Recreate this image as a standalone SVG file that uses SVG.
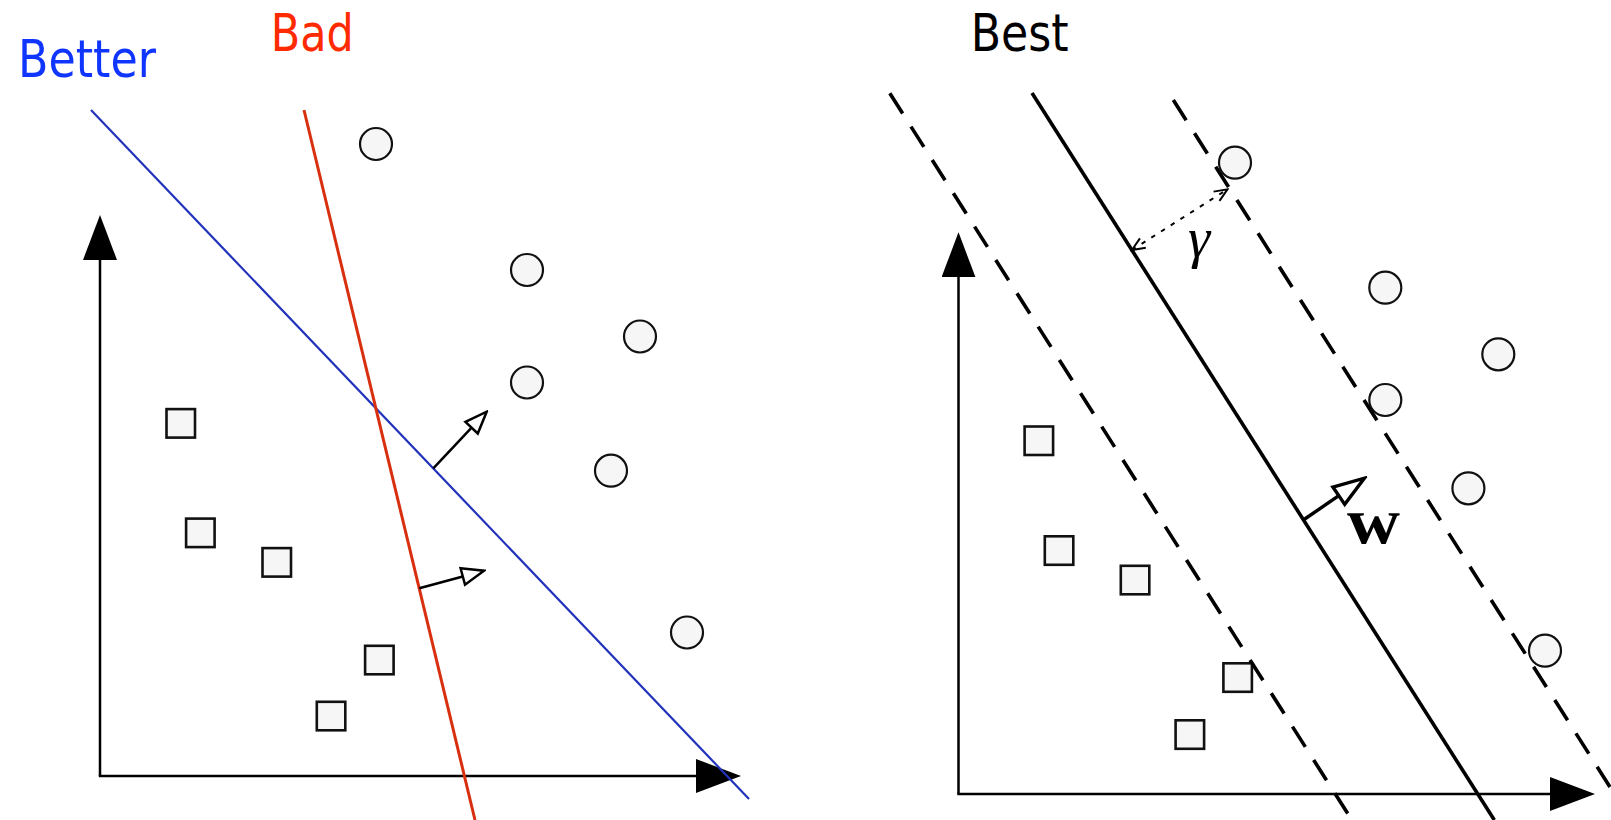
<svg xmlns="http://www.w3.org/2000/svg" width="1611" height="820" viewBox="0 0 1611 820">
  <style>
    .lbl { font-family: "DejaVu Sans", "Liberation Sans", sans-serif; font-size: 52px; }
    .axis { stroke: #000; stroke-width: 2.5; fill: none; }
    .pt { fill: #f6f6f6; stroke: #111; stroke-width: 2.2; }
    .sq { fill: #f6f6f6; stroke: #111; stroke-width: 2.6; }
    .dash { stroke: #000; stroke-width: 3.6; fill: none; stroke-dasharray: 24 15.5; }
  </style>
  <defs>
    <marker id="axisHead" viewBox="-5 -17 45 34" markerWidth="45" markerHeight="34" refX="0" refY="0" orient="auto" markerUnits="userSpaceOnUse">
      <path d="M-5,-17 L40,0 L-5,17 Z" fill="#000"/>
    </marker>
    <marker id="openHead" viewBox="-2 -11 26 22" markerWidth="26" markerHeight="22" refX="0" refY="0" orient="auto" markerUnits="userSpaceOnUse">
      <path d="M0,-8.5 L22,0 L0,8.5 Z" fill="#fff" stroke="#000" stroke-width="2.5" stroke-linejoin="miter"/>
    </marker>
    <marker id="openHeadW" viewBox="-3 -14 37 28" markerWidth="37" markerHeight="28" refX="0" refY="0" orient="auto" markerUnits="userSpaceOnUse">
      <path d="M0,-10.5 L31,0 L0,10.5 Z" fill="#fff" stroke="#000" stroke-width="3.4" stroke-linejoin="miter"/>
    </marker>
    <marker id="stickHead" viewBox="-16 -8 18 16" markerWidth="18" markerHeight="16" refX="0" refY="0" orient="auto-start-reverse" markerUnits="userSpaceOnUse">
      <path d="M-13,-5.5 L0,0 L-13,5.5" fill="none" stroke="#000" stroke-width="2"/>
    </marker>
  </defs>

  <!-- Labels -->
  <text id="label-better" class="lbl" x="18" y="77.3" fill="#0f35ff" textLength="138" lengthAdjust="spacingAndGlyphs">Better</text>
  <text id="label-bad" class="lbl" x="270.7" y="50.7" fill="#ff2a00" textLength="83" lengthAdjust="spacingAndGlyphs">Bad</text>
  <text id="label-best" class="lbl" x="970.7" y="50.7" fill="#000" textLength="98" lengthAdjust="spacingAndGlyphs">Best</text>

  <!-- Left panel points -->
  <g id="left-circles">
    <circle class="pt" cx="376" cy="144" r="16"/>
    <circle class="pt" cx="527" cy="270" r="16"/>
    <circle class="pt" cx="640" cy="336.5" r="16"/>
    <circle class="pt" cx="527" cy="382.5" r="16"/>
    <circle class="pt" cx="611" cy="470.7" r="16"/>
    <circle class="pt" cx="687" cy="632.5" r="16"/>
  </g>
  <g id="left-squares">
    <rect class="sq" x="166.5" y="409.1" width="28.5" height="28.5"/>
    <rect class="sq" x="186.1" y="518.6" width="28.5" height="28.5"/>
    <rect class="sq" x="262.5" y="548.1" width="28.5" height="28.5"/>
    <rect class="sq" x="365.1" y="645.8" width="28.5" height="28.5"/>
    <rect class="sq" x="316.8" y="701.8" width="28.5" height="28.5"/>
  </g>

  <!-- Right panel points -->
  <g id="right-circles">
    <circle class="pt" cx="1235" cy="162.7" r="16"/>
    <circle class="pt" cx="1385.3" cy="287.7" r="16"/>
    <circle class="pt" cx="1498.3" cy="354.3" r="16"/>
    <circle class="pt" cx="1385.3" cy="400" r="16"/>
    <circle class="pt" cx="1468.4" cy="488.3" r="16"/>
    <circle class="pt" cx="1545" cy="650.7" r="16"/>
  </g>
  <g id="right-squares">
    <rect class="sq" x="1024.6" y="426.5" width="28.5" height="28.5"/>
    <rect class="sq" x="1044.8" y="536.3" width="28.5" height="28.5"/>
    <rect class="sq" x="1120.8" y="565.8" width="28.5" height="28.5"/>
    <rect class="sq" x="1223.4" y="663.3" width="28.5" height="28.5"/>
    <rect class="sq" x="1175.6" y="720.3" width="28.5" height="28.5"/>
  </g>

  <g id="connectors">
    <!-- left axes -->
    <path class="axis" d="M100,776 L100,255" marker-end="url(#axisHead)"/>
    <path class="axis" d="M98.8,776 L701,776" marker-end="url(#axisHead)"/>
    <!-- separating lines -->
    <line x1="91" y1="110" x2="749" y2="799" stroke="#2233bb" stroke-width="2.2"/>
    <line x1="304" y1="110" x2="475" y2="820" stroke="#d8300f" stroke-width="3"/>
    <!-- normals -->
    <line x1="433.3" y1="468.3" x2="471.6" y2="427.7" stroke="#000" stroke-width="2.5" marker-end="url(#openHead)"/>
    <line x1="419.3" y1="588.3" x2="462.8" y2="576.5" stroke="#000" stroke-width="2.5" marker-end="url(#openHead)"/>

    <!-- right axes -->
    <path class="axis" d="M958.5,794 L958.5,272.3" marker-end="url(#axisHead)"/>
    <path class="axis" d="M957.3,794 L1555,794" marker-end="url(#axisHead)"/>
    <!-- max-margin hyperplane and margins -->
    <line x1="1032" y1="93" x2="1494.3" y2="820" stroke="#000" stroke-width="3.6"/>
    <line class="dash" x1="889.8" y1="93.3" x2="1351.8" y2="820"/>
    <line class="dash" x1="1173.3" y1="100" x2="1631" y2="820"/>
    <!-- w normal -->
    <line x1="1303.3" y1="520" x2="1338.8" y2="495.7" stroke="#000" stroke-width="3.4" marker-end="url(#openHeadW)"/>
    <!-- gamma margin -->
    <line x1="1131.9" y1="250" x2="1227.5" y2="189.3" stroke="#000" stroke-width="2" stroke-dasharray="4.5 7" marker-start="url(#stickHead)" marker-end="url(#stickHead)"/>
  </g>

  <text id="label-gamma" x="1188" y="257" font-family="Liberation Serif, serif" font-style="italic" font-size="56">γ</text>
  <text id="label-w" x="1347" y="543.3" font-family="Liberation Serif, serif" font-weight="bold" font-size="66" textLength="53" lengthAdjust="spacingAndGlyphs">w</text>
</svg>
